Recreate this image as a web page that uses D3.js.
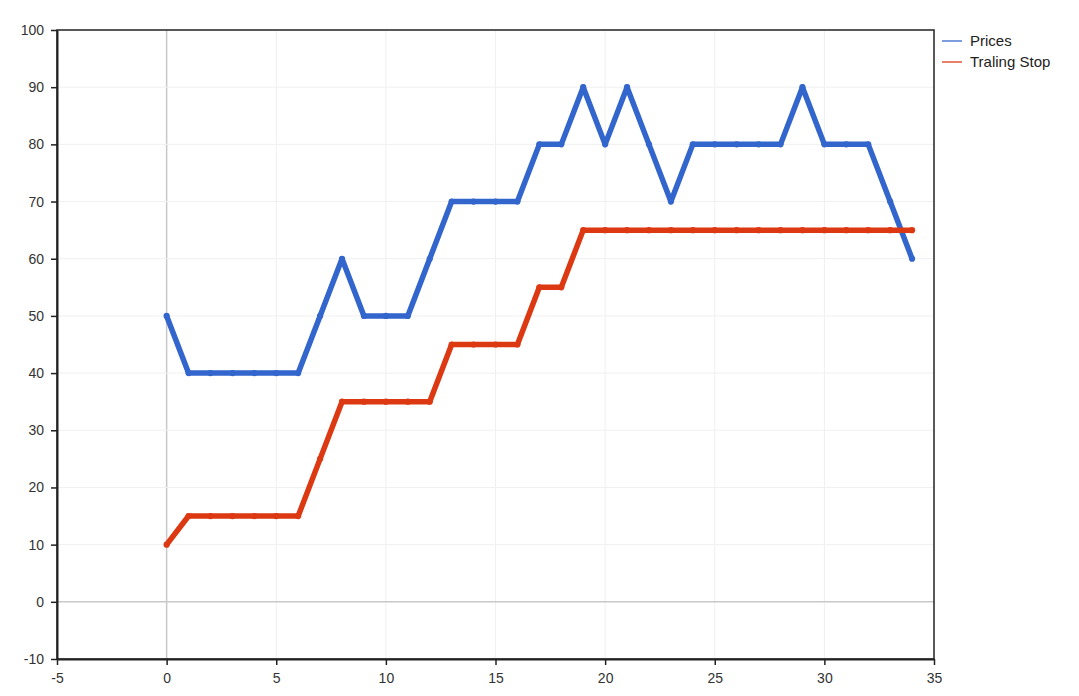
<!DOCTYPE html>
<html><head><meta charset="utf-8">
<script src="https://cdn.jsdelivr.net/npm/d3@7"></script>
<style>body{margin:0;background:#fff}svg{display:block}text{font-family:"Liberation Sans",Arial,sans-serif}</style>
</head><body>
<svg id="c" width="1079" height="696"></svg>
<script>
const xs = d3.range(0, 35);
const prices = [50,40,40,40,40,40,40,50,60,50,50,50,60,70,70,70,70,80,80,90,80,90,80,70,80,80,80,80,80,90,80,80,80,70,60];
const stops  = [10,15,15,15,15,15,15,25,35,35,35,35,35,45,45,45,45,55,55,65,65,65,65,65,65,65,65,65,65,65,65,65,65,65,65];
const seriesNames = ["Prices", "Traling Stop"];
const seriesColors = ["#3366cc", "#dc3912"];
const xTicks = [-5,0,5,10,15,20,25,30,35];
const yTicks = [-10,0,10,20,30,40,50,60,70,80,90,100];

const svg = d3.select("#c");
const L = 57, R = 934, T = 30, B = 659;
const x = d3.scaleLinear().domain([-5,35]).range([L,R]);
const y = d3.scaleLinear().domain([-10,100]).range([B,T]);

// grid
svg.append("g").selectAll("line").data(xTicks.filter(v=>v!==-5&&v!==35)).join("line")
  .attr("x1",d=>x(d)).attr("x2",d=>x(d)).attr("y1",T).attr("y2",B)
  .attr("stroke",d=>d===0?"#c8c8c8":"#f0f0f0").attr("stroke-width",d=>d===0?1.5:1);
svg.append("g").selectAll("line").data(yTicks.filter(v=>v!==-10&&v!==100)).join("line")
  .attr("x1",L).attr("x2",R).attr("y1",d=>y(d)).attr("y2",d=>y(d))
  .attr("stroke",d=>d===0?"#c8c8c8":"#f0f0f0").attr("stroke-width",d=>d===0?1.5:1);

// frame
svg.append("rect").attr("x",L).attr("y",T).attr("width",R-L).attr("height",B-T)
  .attr("fill","none").attr("stroke","#222").attr("stroke-width",1.5);

// axes
const xa = svg.append("g").attr("transform",`translate(0,${B})`)
  .call(d3.axisBottom(x).tickValues(xTicks).tickSize(6).tickSizeOuter(0).tickPadding(5).tickFormat(d=>String(d)));
const ya = svg.append("g").attr("transform",`translate(${L},0)`)
  .call(d3.axisLeft(y).tickValues(yTicks).tickSize(6).tickSizeOuter(0).tickPadding(7).tickFormat(d=>String(d)));
[xa,ya].forEach(a=>{
  a.select(".domain").attr("stroke","#222").attr("stroke-width",2);
  a.selectAll(".tick line").attr("stroke","#222").attr("stroke-width",1.5);
  a.selectAll(".tick text").attr("font-size",14).attr("fill","#333").attr("font-family","Liberation Sans, Arial, sans-serif");
});
xa.selectAll(".tick text").attr("dy","0.95em");

// lines
const line = d3.line().x((d,i)=>x(xs[i])).y(d=>y(d));
[prices, stops].forEach((s,k)=>{
  const g = svg.append("g");
  g.append("path").datum(s).attr("d",line).attr("fill","none")
    .attr("stroke",seriesColors[k]).attr("stroke-width",5.5).attr("stroke-linejoin","round");
  g.selectAll("circle").data(s).join("circle")
    .attr("cx",(d,i)=>x(xs[i])).attr("cy",d=>y(d)).attr("r",3.1).attr("fill",seriesColors[k]);
});

// legend
const lg = svg.append("g");
seriesNames.forEach((n,k)=>{
  const yy = 41 + k*21;
  lg.append("line").attr("x1",942).attr("x2",962).attr("y1",yy).attr("y2",yy)
    .attr("stroke",seriesColors[k]).attr("stroke-width",1.5).attr("opacity",0.85);
  lg.append("text").attr("x",970).attr("y",yy+5).attr("font-size",15).attr("fill","#222").text(n);
});
</script>
</body></html>
